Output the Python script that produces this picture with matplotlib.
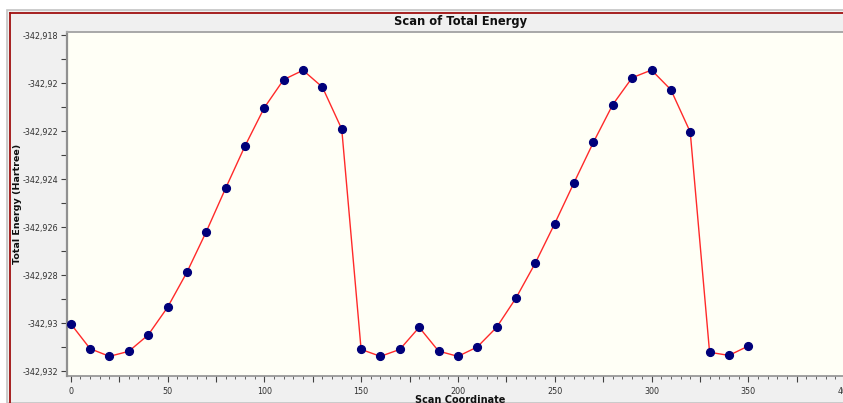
import matplotlib
matplotlib.use("Agg")
import matplotlib.pyplot as plt
from matplotlib.patches import Rectangle
from matplotlib.lines import Line2D
from matplotlib.ticker import MultipleLocator, FuncFormatter
import numpy as np

# scan data
scan_coord = [0, 10, 20, 30, 40, 50, 60, 70, 80, 90, 100, 110, 120, 130, 140,
              150, 160, 170, 180, 190, 200, 210, 220, 230, 240, 250, 260, 270,
              280, 290, 300, 310, 320, 330, 340, 350]
energy = [-342.93003, -342.93107, -342.93139, -342.93118, -342.93050,
          -342.92935, -342.92789, -342.92620, -342.92439, -342.92263,
          -342.92103, -342.91986, -342.91947, -342.92017, -342.92192,
          -342.93110, -342.93139, -342.93110, -342.93018, -342.93117,
          -342.93139, -342.93100, -342.93018, -342.92896, -342.92750,
          -342.92586, -342.92415, -342.92247, -342.92090, -342.91978,
          -342.91946, -342.92028, -342.92204, -342.93122, -342.93135,
          -342.93096]

W, H = 843, 403
fig = plt.figure(figsize=(W / 100, H / 100), dpi=100)
fig.patch.set_facecolor("white")

def fx(px):
    return px / W

def fy(py):
    return 1 - py / H

# window frame (drawn under the axes)
fig.patches.append(Rectangle((fx(7), 0), 1, fy(10), transform=fig.transFigure,
                             facecolor="#f0f0f0", edgecolor="#c4c4c4", lw=1.2,
                             zorder=-10))
fig.lines.append(Line2D([fx(10), 1], [fy(12.5), fy(12.5)], transform=fig.transFigure,
                        color="#a01010", lw=1.3, zorder=-5))
fig.lines.append(Line2D([fx(10), fx(10)], [0, fy(12.5)], transform=fig.transFigure,
                        color="#a01010", lw=1.3, zorder=-5))

# axes: left edge 67px, top 32px, bottom 376px; x scale 1.936 px/unit
x0_px = 70.7
px_per_unit = 1.936
xmin = -(x0_px - 67) / px_per_unit
xmax = 420
ax_left = 67
ax_right = x0_px + xmax * px_per_unit
ax = fig.add_axes([fx(ax_left), fy(376), (ax_right - ax_left) / W, (376 - 32) / H])
ax.set_facecolor("#fffff6")
ax.set_xlim(xmin, xmax)
ax.set_ylim(-342.918 - 341 / 24000, -342.918 + 3 / 24000)

ax.plot(scan_coord, energy, color="#ff2a2a", lw=1.0, zorder=2)
ax.plot(scan_coord, energy, "o", color="#00007a", ms=5.6, mec="#00007a", zorder=3)

for s in ["top", "right"]:
    ax.spines[s].set_color("#a8a8a8")
ax.spines["left"].set_color("#909090")
ax.spines["bottom"].set_color("#909090")
ax.spines["left"].set_linewidth(1.6)
ax.spines["bottom"].set_linewidth(1.2)
ax.spines["top"].set_linewidth(1.4)

def ylab(v, pos):
    s = ("%.3f" % v).rstrip("0").rstrip(".")
    return s.replace(".", ",")

def xlab(v, pos):
    return "%d" % round(v) if round(v) % 50 == 0 else ""

ax.yaxis.set_major_locator(MultipleLocator(0.002))
ax.yaxis.set_minor_locator(MultipleLocator(0.001))
ax.yaxis.set_major_formatter(FuncFormatter(ylab))
ax.xaxis.set_major_locator(MultipleLocator(25))
ax.xaxis.set_minor_locator(MultipleLocator(5))
ax.xaxis.set_major_formatter(FuncFormatter(xlab))

ax.tick_params(axis="y", which="both", direction="out", length=4.5, width=0.8,
               color="#404040", labelsize=5.8, labelcolor="#303030", pad=2)
ax.tick_params(axis="x", which="major", direction="out", length=4, width=0.8,
               color="#404040", labelsize=5.8, labelcolor="#303030", pad=4)
ax.tick_params(axis="x", which="minor", direction="out", length=2.2, width=0.7,
               color="#606060")

fig.text(fx(461), fy(21), "Scan of Total Energy", ha="center", va="center",
         fontsize=8.3, fontweight="bold", color="#101010")
fig.text(fx(18), fy(204), "Total Energy (Hartree)", ha="center", va="center",
         rotation=90, fontsize=6.8, fontweight="bold", color="#101010")
fig.text(fx(460), fy(400), "Scan Coordinate", ha="center", va="center",
         fontsize=7, fontweight="bold", color="#101010")

fig.savefig("out.png", dpi=100, facecolor=fig.get_facecolor())
